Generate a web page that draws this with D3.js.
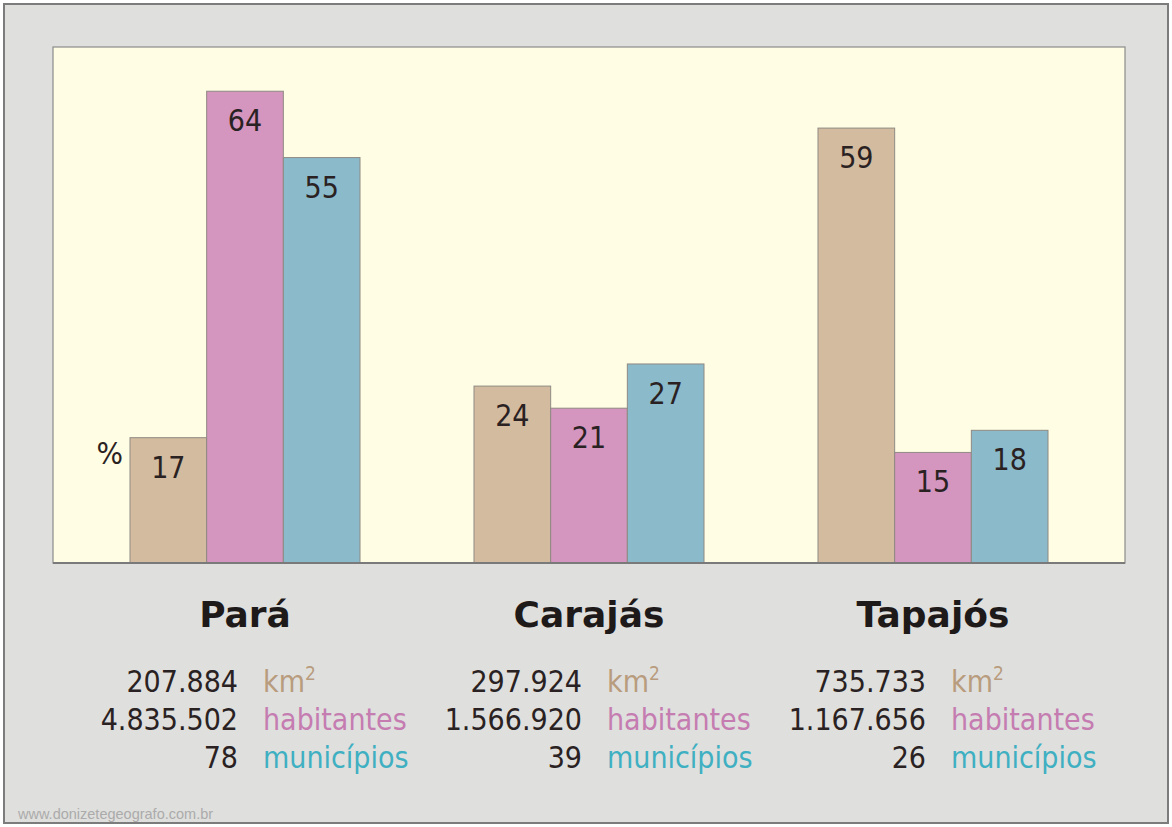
<!DOCTYPE html>
<html>
<head>
<meta charset="utf-8">
<script src="https://cdn.jsdelivr.net/npm/d3@7"></script>
<style>
  html, body { margin: 0; padding: 0; background: #fff; }
  svg { display: block; }
</style>
</head>
<body>
<div id="chart"></div>
<script>
  // regions and the three percentage series
  const regions = ['Pará', 'Carajás', 'Tapajós'];
  const series = ['area', 'pop', 'mun'];
  const areaPct = [17, 24, 59];
  const popPct = [64, 21, 15];
  const munPct = [55, 27, 18];

  // absolute figures printed under each region
  const areaKm2 = ['207.884', '297.924', '735.733'];
  const habitantes = ['4.835.502', '1.566.920', '1.167.656'];
  const municipios = ['78', '39', '26'];
  const unitLabels = ['km', 'habitantes', 'municípios'];

  const W = 1172, H = 827;
  const plot = { left: 53, top: 47, right: 1125, bottom: 563 };

  const barColor = { area: '#d3bb9f', pop: '#d495be', mun: '#8bbacb' };
  const unitColor = ['#b89c7d', '#c57cb1', '#3fb0c2'];
  const numFont = '"DejaVu Sans Condensed", "DejaVu Sans", sans-serif';

  const rows = regions.map((r, i) => ({
    region: r,
    area: areaPct[i],
    pop: popPct[i],
    mun: munPct[i],
    stats: [areaKm2[i], habitantes[i], municipios[i]]
  }));

  const svg = d3.select('#chart').append('svg')
    .attr('width', W)
    .attr('height', H);

  // outer frame
  svg.append('rect')
    .attr('x', 4).attr('y', 4)
    .attr('width', W - 8).attr('height', H - 8)
    .attr('fill', '#dfdfdd')
    .attr('stroke', '#7c7c7c')
    .attr('stroke-width', 2);

  // plot panel
  svg.append('rect')
    .attr('x', plot.left).attr('y', plot.top)
    .attr('width', plot.right - plot.left)
    .attr('height', plot.bottom - plot.top)
    .attr('fill', '#fffde3')
    .attr('stroke', '#8c8c8c')
    .attr('stroke-width', 1.2);

  const x0 = d3.scaleBand()
    .domain(regions)
    .range([73, 1105])
    .paddingInner(114 / 344)
    .paddingOuter(57 / 344);

  const x1 = d3.scaleBand()
    .domain(series)
    .range([0, x0.bandwidth()]);

  const y = d3.scaleLinear()
    .domain([0, 70])
    .range([plot.bottom, plot.top]);

  const groups = svg.append('g').attr('class', 'plot')
    .selectAll('g.region')
    .data(rows)
    .enter()
    .append('g')
    .attr('class', 'region')
    .attr('transform', d => `translate(${x0(d.region)},0)`);

  const bars = groups.selectAll('g.bar')
    .data(d => series.map(k => ({ key: k, value: d[k] })))
    .enter()
    .append('g')
    .attr('class', 'bar');

  bars.append('rect')
    .attr('x', d => x1(d.key))
    .attr('y', d => y(d.value))
    .attr('width', x1.bandwidth())
    .attr('height', d => y(0) - y(d.value))
    .attr('fill', d => barColor[d.key])
    .attr('stroke', '#8f8a84')
    .attr('stroke-width', 1);

  // value labels inside the top of each bar
  bars.append('text')
    .attr('x', d => x1(d.key) + x1.bandwidth() / 2)
    .attr('y', d => y(d.value) + 40)
    .attr('text-anchor', 'middle')
    .attr('font-family', numFont)
    .attr('font-size', 30)
    .attr('fill', '#2a2222')
    .text(d => d.value);

  // percent marker beside the first bar
  svg.append('text')
    .attr('x', x0(regions[0]) - 7)
    .attr('y', y(areaPct[0]) + 26)
    .attr('text-anchor', 'end')
    .attr('font-family', numFont)
    .attr('font-size', 31)
    .attr('fill', '#2a2222')
    .text('%');

  // baseline
  svg.append('line')
    .attr('x1', plot.left).attr('x2', plot.right)
    .attr('y1', plot.bottom).attr('y2', plot.bottom)
    .attr('stroke', '#7a7a7a')
    .attr('stroke-width', 2);

  // region names and the stats block
  const info = svg.append('g').attr('class', 'info')
    .selectAll('g')
    .data(rows)
    .enter()
    .append('g')
    .attr('transform', d => `translate(${x0(d.region) + x0.bandwidth() / 2},0)`);

  info.append('text')
    .attr('y', 627)
    .attr('text-anchor', 'middle')
    .attr('font-family', '"DejaVu Sans", sans-serif')
    .attr('font-weight', 'bold')
    .attr('font-size', 36)
    .attr('fill', '#1e1a1a')
    .text(d => d.region);

  const statRows = info.selectAll('g.stat')
    .data(d => d.stats.map((v, i) => ({ v, i })))
    .enter()
    .append('g')
    .attr('class', 'stat')
    .attr('transform', d => `translate(0,${692 + d.i * 38})`);

  statRows.append('text')
    .attr('x', -7)
    .attr('text-anchor', 'end')
    .attr('font-family', numFont)
    .attr('font-size', 30)
    .attr('fill', '#2a2222')
    .text(d => d.v);

  const units = statRows.append('text')
    .attr('x', 18)
    .attr('font-family', numFont)
    .attr('font-size', 30)
    .attr('fill', d => unitColor[d.i])
    .text(d => unitLabels[d.i]);

  units.filter(d => d.i === 0)
    .append('tspan')
    .attr('dy', -12)
    .attr('font-size', 19)
    .text('2');

  // watermark
  svg.append('text')
    .attr('x', 18)
    .attr('y', 819)
    .attr('font-family', '"Liberation Sans", Arial, sans-serif')
    .attr('font-size', 14.5)
    .attr('fill', '#ababab')
    .text('www.donizetegeografo.com.br');
</script>
</body>
</html>
